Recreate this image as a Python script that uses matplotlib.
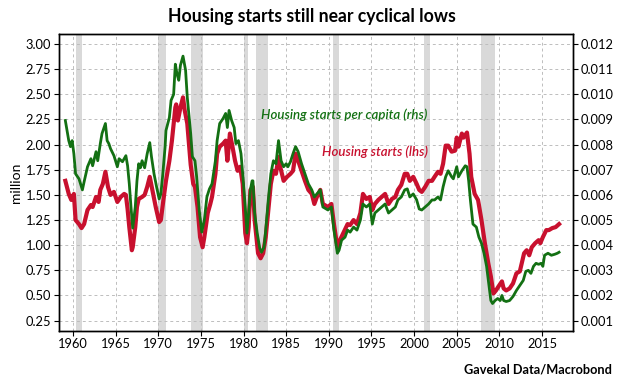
import matplotlib
matplotlib.use("Agg")
import matplotlib.pyplot as plt
from matplotlib.ticker import MultipleLocator, FormatStrFormatter

plt.rcParams['font.family'] = ['Lato', 'DejaVu Sans']

# Housing starts (lhs, million)
hs_year = [1959.1, 1959.5, 1959.8, 1960.1, 1960.3, 1960.7, 1961.0, 1961.3, 1961.7, 1962.1, 1962.3,
           1962.7, 1963.0, 1963.2, 1963.5, 1963.8, 1964.1, 1964.4, 1964.8, 1965.2, 1965.6, 1966.0,
           1966.2, 1966.4, 1966.6, 1966.9, 1967.0, 1967.3, 1967.5, 1967.7, 1968.1, 1968.4, 1968.7,
           1969.0, 1969.3, 1969.7, 1970.1, 1970.3, 1970.6, 1970.9, 1971.3, 1971.6, 1972.0, 1972.1,
           1972.3, 1972.6, 1972.9, 1973.1, 1973.4, 1973.8, 1974.1, 1974.3, 1974.6, 1974.9, 1975.2,
           1975.4, 1975.8, 1976.1, 1976.3, 1976.7, 1976.9, 1977.2, 1977.6, 1977.9, 1978.1, 1978.4,
           1978.7, 1979.0, 1979.3, 1979.6, 1979.9, 1980.2, 1980.4, 1980.6, 1980.8, 1981.1, 1981.3,
           1981.7, 1982.0, 1982.3, 1982.6, 1982.9, 1983.2, 1983.5, 1983.8, 1984.1, 1984.3, 1984.7,
           1985.1, 1985.5, 1985.8, 1986.1, 1986.4, 1986.8, 1987.2, 1987.6, 1988.0, 1988.3, 1988.6,
           1989.0, 1989.3, 1989.9, 1990.3, 1990.6, 1991.0, 1991.3, 1991.7, 1992.2, 1992.5, 1992.9,
           1993.3, 1993.7, 1994.0, 1994.4, 1994.8, 1995.1, 1995.4, 1995.8, 1996.2, 1996.6, 1997.0,
           1997.4, 1997.8, 1998.1, 1998.5, 1998.9, 1999.2, 1999.5, 1999.9, 2000.3, 2000.6, 2000.9,
           2001.3, 2001.7, 2002.1, 2002.4, 2002.8, 2003.1, 2003.4, 2003.7, 2004.0, 2004.4, 2004.8,
           2005.0, 2005.2, 2005.6, 2005.8, 2006.2, 2006.5, 2006.7, 2007.1, 2007.5, 2007.9, 2008.3,
           2008.7, 2009.0, 2009.3, 2009.6, 2009.9, 2010.3, 2010.5, 2010.8, 2011.2, 2011.6, 2012.0,
           2012.4, 2012.9, 2013.2, 2013.5, 2013.8, 2014.2, 2014.6, 2014.8, 2015.1, 2015.5, 2015.8,
           2016.2, 2016.6, 2017.0]
hs_val = [1.64, 1.51, 1.45, 1.51, 1.25, 1.21, 1.17, 1.21, 1.35, 1.40, 1.38,
          1.48, 1.43, 1.55, 1.61, 1.73, 1.58, 1.50, 1.53, 1.43, 1.48, 1.51,
          1.50, 1.36, 1.18, 0.95, 0.98, 1.18, 1.38, 1.46, 1.48, 1.50, 1.58,
          1.68, 1.55, 1.38, 1.23, 1.25, 1.45, 1.64, 1.84, 2.04, 2.37, 2.40,
          2.24, 2.37, 2.47, 2.34, 2.21, 1.80, 1.61, 1.58, 1.38, 1.08, 0.98,
          1.08, 1.32, 1.41, 1.48, 1.71, 1.91, 1.98, 2.01, 2.04, 1.84, 2.11,
          1.98, 1.84, 1.74, 1.78, 1.61, 1.12, 1.02, 1.18, 1.55, 1.58, 1.25,
          0.92, 0.87, 0.92, 1.08, 1.35, 1.61, 1.74, 1.71, 1.88, 1.78, 1.64,
          1.68, 1.71, 1.74, 1.91, 1.84, 1.74, 1.64, 1.55, 1.51, 1.41, 1.48,
          1.55, 1.41, 1.38, 1.41, 1.21, 0.98, 1.05, 1.12, 1.21, 1.20, 1.25,
          1.21, 1.32, 1.51, 1.46, 1.48, 1.35, 1.41, 1.45, 1.48, 1.51, 1.41,
          1.46, 1.48, 1.55, 1.60, 1.71, 1.71, 1.64, 1.68, 1.61, 1.55, 1.53,
          1.58, 1.64, 1.64, 1.68, 1.73, 1.71, 1.81, 1.99, 1.99, 1.93, 1.94,
          2.07, 1.98, 2.11, 2.07, 2.12, 1.91, 1.68, 1.51, 1.45, 1.25, 1.02,
          0.82, 0.69, 0.52, 0.55, 0.59, 0.64, 0.57, 0.55, 0.57, 0.62, 0.72,
          0.74, 0.92, 0.95, 0.90, 0.98, 1.02, 1.05, 1.02, 1.08, 1.15, 1.15,
          1.17, 1.18, 1.21]

# Housing starts per capita (rhs)
pc_year = [1959.1, 1959.5, 1959.7, 1959.9, 1960.1, 1960.3, 1960.7, 1961.1, 1961.3, 1961.7, 1962.1,
           1962.3, 1962.7, 1962.9, 1963.2, 1963.4, 1963.8, 1964.0, 1964.2, 1964.4, 1964.8, 1965.2,
           1965.4, 1965.8, 1966.2, 1966.4, 1966.6, 1966.8, 1967.0, 1967.3, 1967.5, 1967.7, 1967.9,
           1968.1, 1968.4, 1968.7, 1969.0, 1969.2, 1969.5, 1969.8, 1970.1, 1970.3, 1970.5, 1970.8,
           1970.9, 1971.3, 1971.5, 1971.8, 1972.0, 1972.2, 1972.4, 1972.6, 1972.9, 1973.2, 1973.4,
           1973.8, 1974.0, 1974.3, 1974.5, 1974.8, 1975.1, 1975.4, 1975.7, 1976.0, 1976.3, 1976.7,
           1976.9, 1977.2, 1977.6, 1977.9, 1978.1, 1978.3, 1978.6, 1978.9, 1979.1, 1979.4, 1979.7,
           1979.9, 1980.2, 1980.4, 1980.6, 1980.8, 1981.0, 1981.1, 1981.3, 1981.6, 1981.9, 1982.1,
           1982.4, 1982.6, 1982.9, 1983.2, 1983.5, 1983.8, 1984.1, 1984.4, 1984.7, 1985.0, 1985.2,
           1985.5, 1985.8, 1986.1, 1986.4, 1986.8, 1987.2, 1987.6, 1988.0, 1988.3, 1988.6, 1989.0,
           1989.3, 1989.9, 1990.3, 1990.6, 1991.0, 1991.2, 1991.5, 1991.9, 1992.2, 1992.5, 1992.9,
           1993.3, 1993.7, 1994.0, 1994.4, 1994.8, 1995.1, 1995.4, 1995.8, 1996.2, 1996.6, 1997.0,
           1997.4, 1997.8, 1998.1, 1998.5, 1998.9, 1999.2, 1999.5, 1999.9, 2000.3, 2000.6, 2000.9,
           2001.3, 2001.7, 2002.1, 2002.4, 2002.8, 2003.1, 2003.4, 2003.7, 2004.0, 2004.4, 2004.6,
           2005.0, 2005.2, 2005.6, 2006.0, 2006.2, 2006.4, 2006.6, 2006.9, 2007.3, 2007.6, 2007.9,
           2008.2, 2008.5, 2008.8, 2009.0, 2009.2, 2009.5, 2009.8, 2010.1, 2010.3, 2010.5, 2010.8,
           2011.2, 2011.6, 2012.0, 2012.4, 2012.8, 2013.1, 2013.4, 2013.7, 2014.0, 2014.3, 2014.6,
           2014.9, 2015.1, 2015.3, 2015.7, 2016.1, 2016.5, 2016.8, 2017.0]
pc_val = [0.00896, 0.00816, 0.00792, 0.00816, 0.00764, 0.00684, 0.00664, 0.00620, 0.00652, 0.00712, 0.00744,
          0.00716, 0.00772, 0.00736, 0.00804, 0.00844, 0.00884, 0.00816, 0.00804, 0.00784, 0.00756, 0.00712,
          0.00744, 0.00732, 0.00756, 0.00716, 0.00644, 0.00552, 0.00468, 0.00552, 0.00656, 0.00724, 0.00708,
          0.00736, 0.00708, 0.00764, 0.00808, 0.00752, 0.00684, 0.00632, 0.00584, 0.00604, 0.00672, 0.00792,
          0.00856, 0.00908, 0.00976, 0.01000, 0.01120, 0.01080, 0.01056, 0.01116, 0.01152, 0.01096, 0.00988,
          0.00844, 0.00752, 0.00736, 0.00672, 0.00540, 0.00452, 0.00500, 0.00592, 0.00624, 0.00644, 0.00736,
          0.00816, 0.00884, 0.00904, 0.00924, 0.00868, 0.00936, 0.00896, 0.00868, 0.00804, 0.00816, 0.00764,
          0.00684, 0.00552, 0.00448, 0.00528, 0.00620, 0.00656, 0.00656, 0.00528, 0.00448, 0.00388, 0.00372,
          0.00392, 0.00460, 0.00580, 0.00684, 0.00736, 0.00724, 0.00816, 0.00736, 0.00712, 0.00724, 0.00712,
          0.00732, 0.00764, 0.00792, 0.00772, 0.00724, 0.00684, 0.00644, 0.00620, 0.00592, 0.00604, 0.00620,
          0.00552, 0.00540, 0.00552, 0.00460, 0.00368, 0.00380, 0.00420, 0.00432, 0.00460, 0.00452, 0.00472,
          0.00460, 0.00500, 0.00564, 0.00552, 0.00564, 0.00484, 0.00528, 0.00540, 0.00552, 0.00564, 0.00528,
          0.00540, 0.00552, 0.00580, 0.00592, 0.00620, 0.00624, 0.00592, 0.00604, 0.00580, 0.00544, 0.00540,
          0.00552, 0.00564, 0.00580, 0.00580, 0.00592, 0.00580, 0.00632, 0.00672, 0.00696, 0.00672, 0.00664,
          0.00712, 0.00672, 0.00696, 0.00716, 0.00712, 0.00656, 0.00580, 0.00484, 0.00472, 0.00432, 0.00408,
          0.00368, 0.00316, 0.00236, 0.00180, 0.00168, 0.00180, 0.00188, 0.00180, 0.00200, 0.00180, 0.00176,
          0.00180, 0.00196, 0.00220, 0.00240, 0.00260, 0.00296, 0.00300, 0.00288, 0.00316, 0.00328, 0.00324,
          0.00328, 0.00316, 0.00360, 0.00368, 0.00360, 0.00364, 0.00368, 0.00372]

# NBER recessions
rec_start = [1960.3, 1969.95, 1973.85, 1980.0, 1981.5, 1990.5, 2001.2, 2007.9]
rec_end = [1961.1, 1970.85, 1975.2, 1980.5, 1982.85, 1991.2, 2001.85, 2009.45]

RED = '#c8102e'
GREEN = '#137013'

fig = plt.figure(figsize=(6.24, 3.86), dpi=100)
ax = fig.add_axes([0.0946, 0.1433, 0.8232, 0.7686])
ax2 = ax.twinx()

for s, e in zip(rec_start, rec_end):
    ax.axvspan(s, e, color='#d9d9d9', lw=0, zorder=0)

ax.plot(hs_year, hs_val, color=RED, lw=3.0, solid_joinstyle='round', zorder=3)
ax2.plot(pc_year, pc_val, color=GREEN, lw=2.0, solid_joinstyle='round', zorder=3)

ax.set_xlim(1958.36, 2018.6)
ax.set_ylim(0.15, 3.10)
ax2.set_ylim(0.15 * 0.004, 3.10 * 0.004)

ax.xaxis.set_major_locator(MultipleLocator(5))
ax.yaxis.set_major_locator(MultipleLocator(0.25))
ax.yaxis.set_major_formatter(FormatStrFormatter('%.2f'))
ax2.yaxis.set_major_locator(MultipleLocator(0.001))
ax2.yaxis.set_major_formatter(FormatStrFormatter('%.3f'))
ax.set_yticks(ax.get_yticks()[(ax.get_yticks() > 0.2) & (ax.get_yticks() < 3.05)])
ax2.set_yticks(ax2.get_yticks()[(ax2.get_yticks() > 0.0008) & (ax2.get_yticks() < 0.0122)])

ax.grid(True, color='#bdbdbd', linestyle=(0, (3, 3)), lw=0.7)
ax.set_axisbelow(True)
for a in (ax, ax2):
    a.tick_params(labelsize=9.3, length=3.5, width=0.8, direction='out', pad=2)
    for sp in a.spines.values():
        sp.set_linewidth(1.0)

ax.set_ylabel('million', fontsize=10, labelpad=3)

ax.text(2001.5, 2.30, 'Housing starts per capita (rhs)', color=GREEN, fontsize=9.5,
        style='italic', fontweight='semibold', ha='right', va='center', zorder=5)
ax.text(2001.6, 1.93, 'Housing starts (lhs)', color=RED, fontsize=9.5,
        style='italic', fontweight='semibold', ha='right', va='center', zorder=5)

fig.text(0.5, 0.958, 'Housing starts still near cyclical lows', ha='center', va='center',
         fontsize=12.7, fontweight='bold')
fig.text(0.981, 0.044, 'Gavekal Data/Macrobond', ha='right', va='center',
         fontsize=9.2, fontweight='bold')

fig.savefig('out.png', dpi=100)
